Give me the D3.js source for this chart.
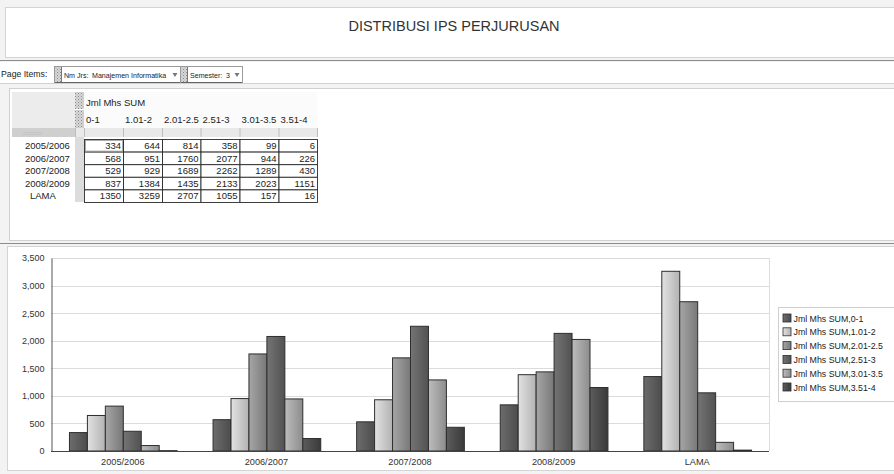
<!DOCTYPE html>
<html>
<head>
<meta charset="utf-8">
<script src="https://cdn.jsdelivr.net/npm/d3@7"></script>
<style>
  html, body { margin: 0; padding: 0; background: #ffffff; }
  svg { display: block; font-family: "Liberation Sans", Arial, sans-serif; }
</style>
</head>
<body>
<svg id="view" width="894" height="474"></svg>
<script>
// ---- data ----
const titleText = "DISTRIBUSI IPS PERJURUSAN";
const categories = ["2005/2006", "2006/2007", "2007/2008", "2008/2009", "LAMA"];
const ranges = ["0-1", "1.01-2", "2.01-2.5", "2.51-3", "3.01-3.5", "3.51-4"];
const measureName = "Jml Mhs SUM";
// student counts per IPS range, one value per category
const s_0_1     = [334, 568, 529, 837, 1350];
const s_101_2   = [644, 951, 929, 1384, 3259];
const s_201_25  = [814, 1760, 1689, 1435, 2707];
const s_251_3   = [358, 2077, 2262, 2133, 1055];
const s_301_35  = [99, 944, 1289, 2023, 157];
const s_351_4   = [6, 226, 430, 1151, 16];
const seriesValues = [s_0_1, s_101_2, s_201_25, s_251_3, s_301_35, s_351_4];
const yTicks = [0, 500, 1000, 1500, 2000, 2500, 3000, 3500];
const pageItemLabels = ["Nm Jrs:", "Semester:"];
const pageItemValues = ["Manajemen Informatika", "3"];

// grayscale gradient stops per series (left, right)
const shades = [
  ["#6c6c6c", "#4c4c4c"],
  ["#e2e2e2", "#b2b2b2"],
  ["#a6a6a6", "#787878"],
  ["#747474", "#525252"],
  ["#bdbdbd", "#8c8c8c"],
  ["#5c5c5c", "#3a3a3a"]
];

const svg = d3.select("#view");
const defs = svg.append("defs");
shades.forEach((s, i) => {
  const g = defs.append("linearGradient").attr("id", "grad" + i)
    .attr("x1", "0%").attr("x2", "100%").attr("y1", "0%").attr("y2", "0%");
  g.append("stop").attr("offset", "0%").attr("stop-color", s[0]);
  g.append("stop").attr("offset", "100%").attr("stop-color", s[1]);
});
// dotted grip pattern
const pat = defs.append("pattern").attr("id", "grip").attr("width", 3).attr("height", 3)
  .attr("patternUnits", "userSpaceOnUse");
pat.append("rect").attr("width", 3).attr("height", 3).attr("fill", "#d8d8d8");
pat.append("rect").attr("width", 1).attr("height", 1).attr("fill", "#8a8a8a");
pat.append("rect").attr("x", 1.5).attr("y", 1.5).attr("width", 1).attr("height", 1).attr("fill", "#a0a0a0");

// ---- page frame ----
svg.append("rect").attr("width", 894).attr("height", 474).attr("fill", "#f3f3f3");
// title panel
svg.append("rect").attr("x", 5.5).attr("y", 7.5).attr("width", 900).attr("height", 50)
  .attr("fill", "#fff").attr("stroke", "#d4d4d4");
svg.append("text").attr("x", 454).attr("y", 31).attr("text-anchor", "middle")
  .attr("font-size", 14.5).attr("fill", "#333").text(titleText);
// separator under title
svg.append("line").attr("x1", 0).attr("x2", 894).attr("y1", 60.5).attr("y2", 60.5)
  .attr("stroke", "#8c8c8c");

// page items bar
svg.append("rect").attr("x", 0).attr("y", 62).attr("width", 894).attr("height", 21).attr("fill", "#fff");
svg.append("line").attr("x1", 0).attr("x2", 894).attr("y1", 83.5).attr("y2", 83.5).attr("stroke", "#d0d0d0");
svg.append("text").attr("x", 1).attr("y", 77).attr("font-size", 8.7).attr("fill", "#222").text("Page Items:");

// page item drop-downs
const boxes = [
  { x: 54, w: 126, vx: 38 },
  { x: 180, w: 62, vx: 46 }
];
boxes.forEach((b, i) => {
  const g = svg.append("g").attr("transform", `translate(${b.x},66)`);
  g.append("rect").attr("x", 0.5).attr("y", 0.5).attr("width", b.w).attr("height", 16)
    .attr("fill", "#fff").attr("stroke", "#9a9a9a");
  g.append("line").attr("x1", 1).attr("x2", b.w).attr("y1", 16.5).attr("y2", 16.5).attr("stroke", "#666");
  g.append("rect").attr("x", 1).attr("y", 1).attr("width", 6).attr("height", 15).attr("fill", "url(#grip)");
  g.append("line").attr("x1", 7.5).attr("x2", 7.5).attr("y1", 1).attr("y2", 16).attr("stroke", "#777");
  g.append("text").attr("x", 10).attr("y", 11.5).attr("font-size", 7.1).attr("fill", "#222")
    .text(pageItemLabels[i]);
  g.append("text").attr("x", b.vx).attr("y", 11.5).attr("font-size", 7.1).attr("fill", "#222")
    .text(pageItemValues[i]);
  g.append("path").attr("d", `M${b.w - 7.5},7 l5,0 l-2.5,4 z`).attr("fill", "#777");
});

// ---- pivot table panel ----
svg.append("rect").attr("x", 9.5).attr("y", 88.5).attr("width", 900).attr("height", 152)
  .attr("fill", "#fff").attr("stroke", "#d0d0d0");

const colEdges = [84, 123, 162, 200.5, 239.5, 278.5, 317];
const rowTop = 139.5, rowH = 12.6;
const leftX = 12, gripX = 75;
const tfs = 9.5;

// header block
svg.append("rect").attr("x", leftX).attr("y", 92).attr("width", gripX - leftX).attr("height", 36)
  .attr("fill", "#ececec");
svg.append("rect").attr("x", gripX).attr("y", 92).attr("width", 9).attr("height", 17).attr("fill", "url(#grip)");
svg.append("rect").attr("x", gripX).attr("y", 110).attr("width", 9).attr("height", 18).attr("fill", "url(#grip)");
svg.append("rect").attr("x", 84).attr("y", 92).attr("width", 233).attr("height", 36).attr("fill", "#fbfbfb");
svg.append("text").attr("x", 86).attr("y", 106).attr("font-size", tfs).attr("fill", "#222").text(measureName);
ranges.forEach((r, i) => {
  svg.append("text").attr("x", colEdges[i] + 2).attr("y", 123).attr("font-size", tfs)
    .attr("fill", "#222").text(r);
});
// gray strip row
svg.append("rect").attr("x", leftX).attr("y", 128).attr("width", gripX - leftX).attr("height", 9)
  .attr("fill", "#cfcfcf");
svg.append("text").attr("x", 22).attr("y", 135).attr("font-size", 6).attr("fill", "#9a9a9a").text("::::::::::::");
svg.append("rect").attr("x", gripX).attr("y", 128).attr("width", colEdges[6] - gripX).attr("height", 9)
  .attr("fill", "#e9e9e9");
colEdges.forEach(x => {
  svg.append("line").attr("x1", x + 0.5).attr("x2", x + 0.5).attr("y1", 128).attr("y2", 137).attr("stroke", "#bdbdbd");
});
svg.append("line").attr("x1", gripX + 0.5).attr("x2", gripX + 0.5).attr("y1", 128).attr("y2", 137).attr("stroke", "#bdbdbd");
// grip column beside row headers
svg.append("rect").attr("x", gripX).attr("y", 137).attr("width", 9).attr("height", rowH * 5 + 2)
  .attr("fill", "#dcdcdc");

categories.forEach((c, ri) => {
  const yy = rowTop + ri * rowH;
  svg.append("text").attr("x", c === "LAMA" ? 30 : 25).attr("y", yy + 9.5).attr("font-size", tfs)
    .attr("fill", "#222").text(c);
  seriesValues.forEach((vals, ci) => {
    svg.append("rect").attr("x", colEdges[ci] + 0.5).attr("y", yy).attr("width", colEdges[ci + 1] - colEdges[ci])
      .attr("height", rowH).attr("fill", "#fff").attr("stroke", "#2a2a2a").attr("stroke-width", 0.9);
    svg.append("text").attr("x", colEdges[ci + 1] - 2).attr("y", yy + 9.5).attr("text-anchor", "end")
      .attr("font-size", tfs).attr("fill", "#222").text(vals[ri]);
  });
});
// selected first cell
svg.append("rect").attr("x", colEdges[0] + 1.5).attr("y", rowTop + 1).attr("width", colEdges[1] - colEdges[0] - 2)
  .attr("height", rowH - 2).attr("fill", "none").attr("stroke", "#9a9a9a").attr("stroke-width", 0.8);

// ---- chart panel ----
svg.append("line").attr("x1", 0).attr("x2", 894).attr("y1", 243.5).attr("y2", 243.5).attr("stroke", "#8c8c8c");
svg.append("rect").attr("x", 7.5).attr("y", 246.5).attr("width", 900).attr("height", 224)
  .attr("fill", "#fff").attr("stroke", "#d4d4d4");

const plot = { left: 51, right: 769, top: 258, bottom: 451 };
const y = d3.scaleLinear().domain([0, 3500]).range([plot.bottom, plot.top]);
const x0 = d3.scaleBand().domain(categories).range([plot.left, plot.right])
  .paddingInner(0.25).paddingOuter(0.125);
const x1 = d3.scaleBand().domain(ranges).range([0, x0.bandwidth()]);

// gridlines
svg.append("g").selectAll("line").data(yTicks.slice(1)).join("line")
  .attr("x1", plot.left).attr("x2", plot.right)
  .attr("y1", d => Math.round(y(d)) + 0.5).attr("y2", d => Math.round(y(d)) + 0.5)
  .attr("stroke", "#dcdcdc");
svg.append("line").attr("x1", plot.right + 0.5).attr("x2", plot.right + 0.5)
  .attr("y1", plot.top).attr("y2", plot.bottom).attr("stroke", "#dcdcdc");

// bars
const groups = svg.append("g").selectAll("g").data(categories).join("g")
  .attr("transform", d => `translate(${x0(d)},0)`);
groups.selectAll("rect")
  .data((c, ci) => ranges.map((r, si) => ({ r, si, v: seriesValues[si][ci] })))
  .join("rect")
  .attr("x", d => x1(d.r) + 0.5)
  .attr("y", d => y(d.v))
  .attr("width", x1.bandwidth())
  .attr("height", d => plot.bottom - y(d.v))
  .attr("fill", d => `url(#grad${d.si})`)
  .attr("stroke", "#2e2e2e").attr("stroke-width", 1);

// y axis
const yAxis = d3.axisLeft(y).tickValues(yTicks).tickFormat(d3.format(",")).tickSize(0).tickPadding(7);
const ya = svg.append("g").attr("transform", `translate(${plot.left + 0.5},0)`).call(yAxis);
ya.select(".domain").attr("stroke", "#555");
ya.selectAll("text").attr("font-size", 9).attr("fill", "#333").attr("font-family", "Liberation Sans, Arial, sans-serif");

// x axis
const xAxis = d3.axisBottom(x0).tickSize(0).tickPadding(7);
const xa = svg.append("g").attr("transform", `translate(0,${plot.bottom + 0.5})`).call(xAxis);
xa.select(".domain").attr("stroke", "#444").attr("d", `M${plot.left},0H${plot.right}`);
xa.selectAll("text").attr("font-size", 9.2).attr("fill", "#333").attr("font-family", "Liberation Sans, Arial, sans-serif");

// legend
const lg = svg.append("g").attr("transform", "translate(778.5,307.5)");
lg.append("rect").attr("width", 130).attr("height", 94).attr("fill", "#fff").attr("stroke", "#cfcfcf");
ranges.forEach((r, i) => {
  const row = lg.append("g").attr("transform", `translate(4,${6 + i * 13.8})`);
  row.append("rect").attr("x", 0.5).attr("y", 0.5).attr("width", 8).attr("height", 8)
    .attr("fill", `url(#grad${i})`).attr("stroke", "#2e2e2e").attr("stroke-width", 0.8);
  row.append("text").attr("x", 11).attr("y", 8).attr("font-size", 8.8).attr("fill", "#222")
    .text(measureName + "," + r);
});
</script>
</body>
</html>
